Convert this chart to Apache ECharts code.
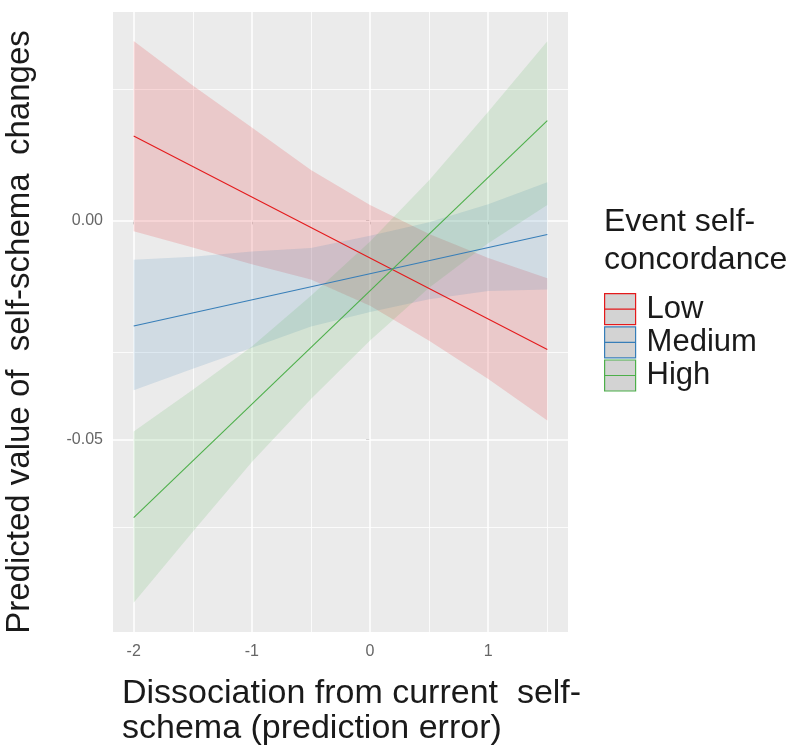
<!DOCTYPE html>
<html><head><meta charset="utf-8">
<script src="https://cdn.jsdelivr.net/npm/echarts/dist/echarts.min.js"></script>
<style>html,body{margin:0;padding:0;background:#fff}#c{width:798px;height:747px}</style>
</head><body><div id="c"></div>
<script>
// ---- data ----
const bandX = [-2, -1.5, -1, -0.5, 0, 0.5, 1, 1.5];
const lineX = [-2, 1.5];

const lowLine  = [0.0193, -0.0295];
const lowUpper = [0.0410, 0.0308, 0.0212, 0.0115, 0.0035, -0.0031, -0.0086, -0.0132];
const lowLower = [-0.0025, -0.0062, -0.0100, -0.0135, -0.0195, -0.0275, -0.0362, -0.0457];

const medLine  = [-0.0241, -0.0032];
const medUpper = [-0.0090, -0.0083, -0.0071, -0.0063, -0.0035, -0.0004, 0.0037, 0.0087];
const medLower = [-0.0388, -0.0339, -0.0291, -0.0242, -0.0209, -0.0180, -0.0161, -0.0158];

const highLine  = [-0.0679, 0.0228];
const highUpper = [-0.0482, -0.0387, -0.0288, -0.0172, -0.0048, 0.0092, 0.0248, 0.0409];
const highLower = [-0.0873, -0.0711, -0.0552, -0.0408, -0.0274, -0.0154, -0.0052, 0.0035];

const groups = ['Low', 'Medium', 'High'];
const xTickLabels = [-2, -1, 0, 1];
const yTickLabels = [-0.05, 0];
const xMinorGrid = [-1.5, -0.5, 0.5, 1.5];
const yMinorGrid = [-0.075, -0.025, 0.025];

// ---- styling ----
const colors = ['#E41A1C', '#377EB8', '#4DAF4A'];
const fills = ['rgba(228,26,28,0.16)', 'rgba(55,126,184,0.15)', 'rgba(77,175,74,0.15)'];
const FONT = "'Liberation Sans', Arial, sans-serif";

const sets = [
  {line: lowLine, up: lowUpper, lo: lowLower},
  {line: medLine, up: medUpper, lo: medLower},
  {line: highLine, up: highUpper, lo: highLower}
];

const series = [];
// helper series for panel grid lines (drawn beneath the bands)
series.push({
  type: 'line', name: '_grid', data: [], symbol: 'none', silent: true, z: 1,
  lineStyle: {opacity: 0},
  markLine: {
    z: 1, silent: true, symbol: 'none', animation: false, label: {show: false},
    data: [
      ...xTickLabels.map(v => ({xAxis: v, lineStyle: {color: '#fff', width: 1.5, type: 'solid'}})),
      ...xMinorGrid.map(v => ({xAxis: v, lineStyle: {color: '#fff', width: 0.8, type: 'solid'}})),
      ...yTickLabels.map(v => ({yAxis: v, lineStyle: {color: '#fff', width: 1.5, type: 'solid'}})),
      ...yMinorGrid.map(v => ({yAxis: v, lineStyle: {color: '#fff', width: 0.8, type: 'solid'}}))
    ]
  }
});

// confidence bands: one polygon per group, built from the band arrays via the axis scales
sets.forEach((s, k) => {
  const rows = bandX.map((x, i) => [x, s.lo[i], s.up[i]]);
  series.push({
    type: 'custom', name: groups[k] + ' band', z: 3, silent: true,
    data: rows,
    encode: {x: 0, y: [1, 2]},
    renderItem: function (params, api) {
      if (params.dataIndex !== 0) return null;
      const pts = [];
      for (let i = 0; i < rows.length; i++) pts.push(api.coord([rows[i][0], rows[i][2]]));
      for (let i = rows.length - 1; i >= 0; i--) pts.push(api.coord([rows[i][0], rows[i][1]]));
      return {type: 'polygon', shape: {points: pts}, style: {fill: fills[k], stroke: null}};
    }
  });
});
sets.forEach((s, k) => {
  series.push({
    type: 'line', name: groups[k], symbol: 'none', z: 4,
    data: lineX.map((x, i) => [x, s.line[i]]),
    lineStyle: {color: colors[k], width: 1.1}, itemStyle: {color: colors[k]}, silent: true
  });
});

const keyIcon = 'path://M0,0H32V32H0Z M0,16H32';

const option = {
  animation: false,
  backgroundColor: '#ffffff',
  textStyle: {fontFamily: FONT},
  grid: {left: 113, top: 12, width: 455, height: 620, show: true, backgroundColor: '#EBEBEB', borderWidth: 0,
         containLabel: false, outerBoundsMode: 'none'},
  title: [
    {text: 'Event self-\nconcordance', left: 599, top: 198,
     textStyle: {fontFamily: FONT, fontSize: 32, fontWeight: 'normal', color: '#1a1a1a', lineHeight: 38}},
    {text: 'Dissociation from current  self-\nschema (prediction error)', left: 117, top: 671,
     textStyle: {fontFamily: FONT, fontSize: 34, fontWeight: 'normal', color: '#1a1a1a', lineHeight: 35}}
  ],
  legend: {
    orient: 'vertical', left: 599, top: 288, itemWidth: 33, itemHeight: 31, itemGap: 1,
    selectedMode: false,
    data: groups.map((g, k) => ({
      name: g, icon: keyIcon,
      itemStyle: {color: '#D3D3D3', borderColor: colors[k], borderWidth: 1.2, opacity: 1}
    })),
    textStyle: {fontFamily: FONT, fontSize: 31, color: '#1a1a1a', padding: [0, 0, 0, 5], lineHeight: 31}
  },
  xAxis: {
    type: 'value', min: -2.175, max: 1.675,
    axisLine: {show: false},
    splitLine: {show: false},
    axisTick: {show: true, length: 4, lineStyle: {color: '#555', width: 1}, customValues: xTickLabels},
    axisLabel: {customValues: xTickLabels, fontFamily: FONT, fontSize: 16, color: '#666', margin: 12,
      formatter: v => String(v)}
  },
  yAxis: {
    type: 'value', min: -0.094, max: 0.0476,
    name: 'Predicted value of  self-schema  changes', nameLocation: 'middle', nameGap: 77,
    nameTextStyle: {fontFamily: FONT, fontSize: 33, color: '#1a1a1a', padding: [0, 20, 0, 0]},
    axisLine: {show: false},
    splitLine: {show: false},
    axisTick: {show: true, length: 4, lineStyle: {color: '#555', width: 1}, customValues: yTickLabels},
    axisLabel: {customValues: yTickLabels, fontFamily: FONT, fontSize: 16, color: '#666', margin: 10,
      formatter: v => v.toFixed(2)}
  },
  series: series
};
const chart = echarts.init(document.getElementById('c'), null, {renderer: 'canvas'});
chart.setOption(option);
</script>
</body></html>
